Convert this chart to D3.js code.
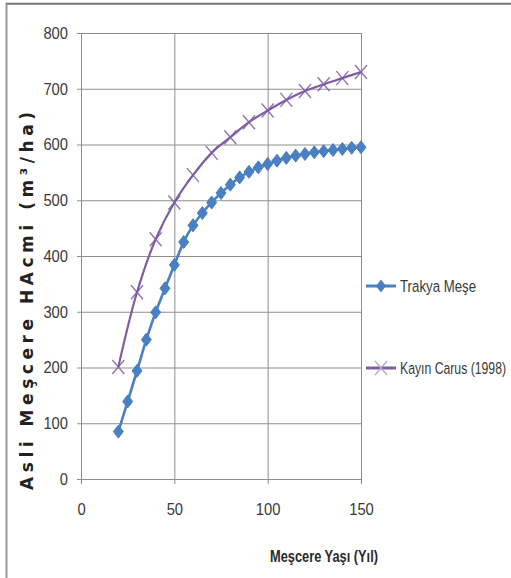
<!DOCTYPE html>
<html>
<head>
<meta charset="utf-8">
<script src="https://cdn.jsdelivr.net/npm/d3@7"></script>
<style>
  html, body { margin: 0; padding: 0; background: #fff; }
  svg { display: block; }
  .tick-label { font-family: "Liberation Sans Narrow", "Arial Narrow", "Liberation Sans", sans-serif; fill: #3a3a3a; }
</style>
</head>
<body>
<svg id="chart" width="511" height="578"></svg>
<script>
// Stand age (years) and stand volume (m³/ha) for the two yield models
const trakyaAges = [20, 25, 30, 35, 40, 45, 50, 55, 60, 65, 70, 75, 80, 85, 90, 95, 100, 105, 110, 115, 120, 125, 130, 135, 140, 145, 150];
const trakyaValues = [85, 139, 194, 250, 299, 342, 384, 425, 455, 477, 496, 513, 528, 541, 551, 559, 565, 571, 576, 580, 583, 586, 588, 590, 592, 594, 595];
const kayinAges = [20, 30, 40, 50, 60, 70, 80, 90, 100, 110, 120, 130, 140, 150];
const kayinValues = [201, 335, 430, 496, 545, 585, 613, 640, 661, 680, 696, 708, 719, 730];
const seriesNames = ["Trakya Meşe", "Kayın Carus (1998)"];
const xTicks = [0, 50, 100, 150];
const yTicks = [0, 100, 200, 300, 400, 500, 600, 700, 800];
const xTitle = "Meşcere Yaşı (Yıl)";
const yTitle = "Asli Meşcere HAcmi (m³/ha)";

const svg = d3.select("#chart");
const blue = "#4a7fc1";
const purple = "#7d5ca3";
const gridColor = "#8e8e8e";

// condensed look for labels: squeeze glyphs to a target width
const digitWidth = 8.2;
const squeeze = (sel, w) => sel.attr("textLength", w).attr("lengthAdjust", "spacingAndGlyphs");

// outer frame
svg.append("rect").attr("x", 6.5).attr("y", 4).attr("width", 520).attr("height", 600)
  .attr("fill", "#fff").attr("stroke", "#9a9a9a").attr("stroke-width", 2);
svg.append("line").attr("x1", 6).attr("x2", 511).attr("y1", 3.5).attr("y2", 3.5)
  .attr("stroke", "#7a7a7a").attr("stroke-width", 1.5);

const x = d3.scaleLinear().domain([0, 150]).range([81, 361]);
const y = d3.scaleLinear().domain([0, 800]).range([479, 33]);

// horizontal gridlines with outward ticks
const gy = svg.append("g").attr("transform", `translate(${x(0)},0)`)
  .call(d3.axisLeft(y).tickValues(yTicks).tickSize(-(x(150) - x(0))).tickSizeOuter(0).tickPadding(13).tickFormat(d3.format("d")));
gy.select(".domain").remove();
gy.selectAll(".tick line").attr("stroke", gridColor).attr("x1", -4);
gy.selectAll(".tick text").attr("class", "tick-label").attr("font-size", 17).attr("font-family", null)
  .each(function (d) { squeeze(d3.select(this), String(d).length * digitWidth); });

// vertical gridlines with outward ticks
const gx = svg.append("g").attr("transform", `translate(0,${y(0)})`)
  .call(d3.axisBottom(x).tickValues(xTicks).tickSize(-(y(0) - y(800))).tickSizeOuter(0).tickPadding(24).tickFormat(d3.format("d")));
gx.select(".domain").remove();
gx.selectAll(".tick line").attr("stroke", gridColor).attr("y1", 5);
gx.selectAll(".tick text").attr("class", "tick-label").attr("font-size", 17).attr("font-family", null)
  .each(function (d) { squeeze(d3.select(this), String(d).length * digitWidth); });

// axis titles
svg.append("text").attr("x", 324).attr("y", 562).attr("text-anchor", "middle")
  .attr("font-family", "'Liberation Sans', sans-serif").attr("font-weight", "bold")
  .attr("font-size", 17).attr("fill", "#2a2a2a").call(squeeze, 108).text(xTitle);
svg.append("text").attr("transform", "translate(33,301) rotate(-90)").attr("text-anchor", "middle")
  .attr("font-family", "'DejaVu Sans', sans-serif").attr("font-weight", "bold")
  .attr("font-size", 17).attr("fill", "#222")
  .attr("textLength", 378).attr("lengthAdjust", "spacing").text(yTitle);

const trakya = trakyaAges.map((a, i) => [a, trakyaValues[i]]);
const kayin = kayinAges.map((a, i) => [a, kayinValues[i]]);
const line = d3.line().x(d => x(d[0])).y(d => y(d[1])).curve(d3.curveCatmullRom.alpha(0.5));

const diamond = "M0,-6.5L5,0L0,6.5L-5,0Z";
const cross = "M-6,-7L6,7M-6,7L6,-7";

// Kayın series
svg.append("path").datum(kayin).attr("d", line).attr("fill", "none")
  .attr("stroke", purple).attr("stroke-width", 2.2);
svg.append("g").selectAll("path").data(kayin).join("path")
  .attr("transform", d => `translate(${x(d[0])},${y(d[1])})`)
  .attr("d", cross).attr("stroke", purple).attr("stroke-width", 1.4).attr("fill", "none").attr("opacity", 0.85);

// Trakya series
svg.append("path").datum(trakya).attr("d", line).attr("fill", "none")
  .attr("stroke", blue).attr("stroke-width", 2.6);
svg.append("g").selectAll("path").data(trakya).join("path")
  .attr("transform", d => `translate(${x(d[0])},${y(d[1])})`)
  .attr("d", diamond).attr("fill", blue).attr("stroke", blue).attr("stroke-width", 1);

// legend
const legendY = [286, 368];
const legendSqueeze = [0.78, 0.72];
const lg = svg.append("g");
lg.append("line").attr("x1", 366).attr("x2", 396).attr("y1", legendY[0]).attr("y2", legendY[0])
  .attr("stroke", blue).attr("stroke-width", 3);
lg.append("path").attr("transform", `translate(381,${legendY[0]})`).attr("d", diamond).attr("fill", blue);
lg.append("line").attr("x1", 366).attr("x2", 396).attr("y1", legendY[1]).attr("y2", legendY[1])
  .attr("stroke", purple).attr("stroke-width", 3);
lg.append("path").attr("transform", `translate(381,${legendY[1]})`).attr("d", cross)
  .attr("stroke", "#b7a6cc").attr("stroke-width", 1.2).attr("fill", "none");
// legend labels, horizontally condensed
lg.selectAll("text").data(seriesNames).join("text")
  .attr("class", "tick-label")
  .attr("transform", (d, i) => `translate(400,${legendY[i] + 6}) scale(${legendSqueeze[i]},1)`)
  .attr("font-size", 17).attr("fill", "#2e2e2e")
  .text(d => d);
</script>
</body>
</html>
